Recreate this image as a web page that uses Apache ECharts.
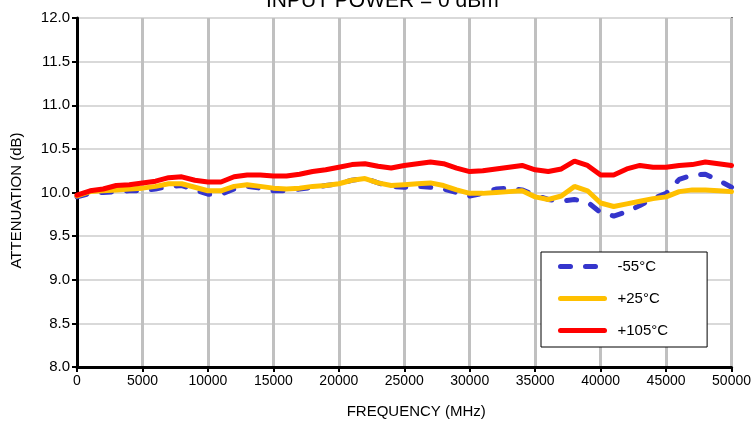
<!DOCTYPE html>
<html>
<head>
<meta charset="utf-8">
<script src="https://cdn.jsdelivr.net/npm/echarts@6/dist/echarts.min.js"></script>
<style>
	html, body { margin: 0; padding: 0; background: #fff; }
	#chart { width: 754px; height: 424px; }
</style>
</head>
<body>
<div id="chart"></div>
<script>
// frequency points (MHz)
var freq = [0, 1000, 2000, 3000, 4000, 5000, 6000, 7000, 8000, 9000,
	10000, 11000, 12000, 13000, 14000, 15000, 16000, 17000, 18000, 19000,
	20000, 21000, 22000, 23000, 24000, 25000, 26000, 27000, 28000, 29000,
	30000, 31000, 32000, 33000, 34000, 35000, 36000, 37000, 38000, 39000,
	40000, 41000, 42000, 43000, 44000, 45000, 46000, 47000, 48000, 49000, 50000];

var attMinus55 = [9.95, 9.99, 10.00, 10.01, 10.02, 10.02, 10.04, 10.07, 10.08, 10.03,
	9.98, 9.98, 10.04, 10.07, 10.05, 10.02, 10.02, 10.04, 10.06, 10.08,
	10.10, 10.14, 10.16, 10.11, 10.07, 10.06, 10.07, 10.06, 10.04, 10.00,
	9.96, 9.99, 10.04, 10.05, 10.03, 9.97, 9.92, 9.90, 9.92, 9.89,
	9.77, 9.73, 9.78, 9.85, 9.93, 9.99, 10.15, 10.20, 10.21, 10.14, 10.06];

var attPlus25 = [9.96, 10.01, 10.02, 10.03, 10.04, 10.05, 10.07, 10.10, 10.10, 10.06,
	10.02, 10.02, 10.07, 10.09, 10.07, 10.05, 10.04, 10.05, 10.07, 10.08,
	10.10, 10.14, 10.16, 10.11, 10.08, 10.09, 10.10, 10.11, 10.08, 10.03,
	9.99, 9.99, 10.00, 10.01, 10.02, 9.95, 9.92, 9.96, 10.07, 10.02,
	9.88, 9.84, 9.87, 9.90, 9.93, 9.95, 10.01, 10.03, 10.03, 10.02, 10.01];

var attPlus105 = [9.97, 10.02, 10.04, 10.08, 10.09, 10.11, 10.13, 10.17, 10.18, 10.14,
	10.12, 10.12, 10.18, 10.20, 10.20, 10.19, 10.19, 10.21, 10.24, 10.26,
	10.29, 10.32, 10.33, 10.30, 10.28, 10.31, 10.33, 10.35, 10.33, 10.28,
	10.24, 10.25, 10.27, 10.29, 10.31, 10.26, 10.24, 10.27, 10.36, 10.31,
	10.20, 10.20, 10.27, 10.31, 10.29, 10.29, 10.31, 10.32, 10.35, 10.33, 10.31];

var seriesNames = ['-55°C', '+25°C', '+105°C'];

var pair = function (ys) {
	var res = [];
	for (var i = 0; i < freq.length; i++) {
		res.push([freq[i], ys[i]]);
	}
	return res;
};

var myChart = echarts.init(document.getElementById('chart'));
var font = 'Liberation Sans, Arial, sans-serif';

var option = {
	backgroundColor: '#fff',
	animation: false,
	title: {
		text: 'INPUT POWER = 0 dBm',
		left: 261,
		top: -14,
		textStyle: { fontFamily: font, fontSize: 21, fontWeight: 'normal', color: '#000' }
	},
	legend: {
		orient: 'vertical',
		left: 541,
		top: 252,
		padding: [7, 39, 9, 17],
		itemWidth: 44,
		itemHeight: 14,
		itemGap: 17,
		backgroundColor: '#fff',
		borderColor: '#000',
		borderWidth: 1,
		itemStyle: { opacity: 0 },
		lineStyle: { width: 5, cap: 'round' },
		textStyle: { fontFamily: font, fontSize: 15, color: '#000', padding: [0, 0, 0, 8] },
		data: seriesNames
	},
	grid: {
		left: 77,
		right: 22,
		top: 18,
		bottom: 56,
		show: true,
		borderColor: '#000',
		borderWidth: 2
	},
	xAxis: {
		type: 'value',
		min: 0,
		max: 50000,
		interval: 5000,
		name: 'FREQUENCY (MHz)',
		nameLocation: 'middle',
		nameGap: 37,
		nameTextStyle: { fontFamily: font, fontSize: 15, color: '#000', padding: [0, 0, 0, 24] },
		axisLine: { lineStyle: { color: '#000', width: 3 } },
		axisTick: { show: true, length: 5, lineStyle: { color: '#000', width: 2 } },
		axisLabel: {
			fontFamily: font, fontSize: 14, color: '#000', margin: 7,
			formatter: function (v) { return String(v); }
		},
		splitLine: { show: true, lineStyle: { color: '#c0c0c0', width: 3 } }
	},
	yAxis: {
		type: 'value',
		min: 8,
		max: 12,
		interval: 0.5,
		name: 'ATTENUATION (dB)',
		nameLocation: 'middle',
		nameGap: 53,
		nameTextStyle: { fontFamily: font, fontSize: 15, color: '#000', padding: [0, 0, 0, -16] },
		axisLine: { show: true, lineStyle: { color: '#000', width: 3 } },
		axisTick: { show: true, length: 5, lineStyle: { color: '#000', width: 2 } },
		axisLabel: {
			fontFamily: font, fontSize: 15, color: '#000', margin: 7,
			formatter: function (v) { return v.toFixed(1); }
		},
		splitLine: { show: true, lineStyle: { color: '#d9d9d9', width: 2 } }
	},
	series: [
		{
			name: seriesNames[0],
			type: 'line',
			showSymbol: false,
			symbol: 'none',
			color: '#3535cc',
			lineStyle: { width: 5, type: [10, 15], cap: 'round', color: '#3535cc' },
			data: pair(attMinus55)
		},
		{
			name: seriesNames[1],
			type: 'line',
			showSymbol: false,
			symbol: 'none',
			color: '#ffc000',
			lineStyle: { width: 5, color: '#ffc000', cap: 'round' },
			data: pair(attPlus25)
		},
		{
			name: seriesNames[2],
			type: 'line',
			showSymbol: false,
			symbol: 'none',
			color: '#ff0000',
			lineStyle: { width: 5, color: '#ff0000', cap: 'round' },
			data: pair(attPlus105)
		}
	]
};
myChart.setOption(option);
</script>
</body>
</html>
